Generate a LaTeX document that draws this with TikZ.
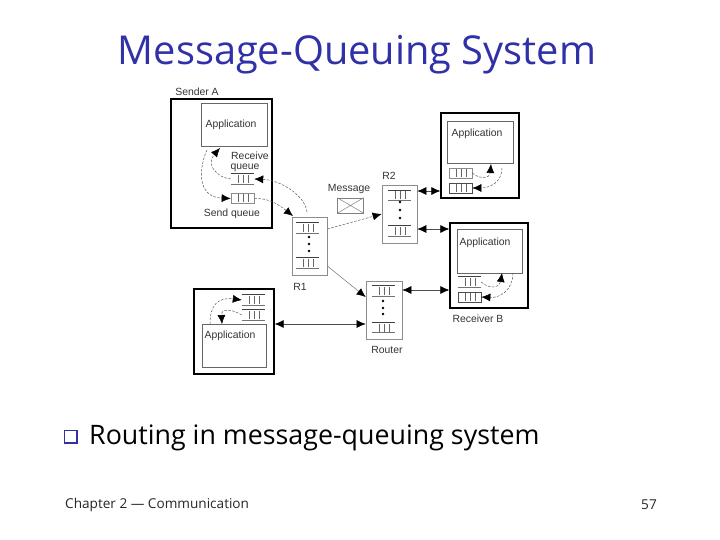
\documentclass[tikz,border=0pt]{standalone}
\usepackage{fontspec}
\setmainfont{Open Sans}
\newfontfamily\diagfont{Liberation Sans}
\usetikzlibrary{arrows.meta,calc}
\definecolor{slideblue}{HTML}{3030A8}
\newcommand{\qticks}{\draw[black!60,line width=.6pt] (path picture bounding box.south west)++(7pt,1pt) -- ++(0,8pt) ++(5pt,-8pt) -- ++(0,8pt) ++(5pt,-8pt) -- ++(0,8pt);}
\tikzset{
  x=1pt,y=-1pt,
  lbl/.style={font=\diagfont\fontsize{10.4}{11}\selectfont,text=black!80,inner sep=0pt,align=center},
  outer/.style={draw=black,line width=1.3pt,inner sep=0pt,fill=white},
  appbox/.style={draw=black!60,line width=.7pt,inner sep=0pt,fill=white},
  router/.style={draw=black!45,line width=.7pt,inner sep=0pt,fill=white},
  qbase/.style={inner sep=0pt,minimum width=23pt,minimum height=10pt,path picture={\qticks}},
  qbox/.style={qbase,draw=black!70,line width=.7pt},
  qlines/.style={qbase,append after command={
     (\tikzlastnode.north west) edge[draw=black!75,line width=.8pt] (\tikzlastnode.north east)
     (\tikzlastnode.south west) edge[draw=black!55,line width=.8pt] (\tikzlastnode.south east)}},
  dotn/.style={circle,fill=black,inner sep=0pt,minimum size=2.6pt},
  dashline/.style={-{Latex[length=9pt,width=8pt,black]},dash pattern=on 2.5pt off 1.5pt,line width=.5pt,draw=black!65},
  thinline/.style={-{Latex[length=9pt,width=8pt,black]},line width=.5pt,draw=black!55},
  dbl/.style={{Latex[length=9pt,width=8pt,black]}-{Latex[length=9pt,width=8pt,black]},line width=.6pt,draw=black!70},
  title/.style={font=\fontsize{39.8}{44}\selectfont,text=slideblue,inner sep=0pt},
  body/.style={font=\fontsize{26.8}{30}\selectfont,text=black,inner sep=0pt,anchor=west},
  foot/.style={font=\fontsize{13.6}{16}\selectfont,text=black!85,inner sep=0pt},
  bullet/.style={draw=slideblue,line width=1.2pt,fill=white,minimum size=12pt,inner sep=0pt}
}
\begin{document}
\begin{tikzpicture}
\useasboundingbox (0,0) rectangle (720,540);
\node[title] (ttl) at (357,55) {Message-Queuing System};
% Sender A
\node[outer,minimum width=101pt,minimum height=129pt] (sender) at (221.5,163.5) {};
\node[appbox,minimum width=66pt,minimum height=43pt] (sapp) at (234,124.5) {};
\node[lbl] (sappl) at (231,125) {Application};
\node[qlines] (srq) at (242.5,179) {};
\node[qbox,draw=black!45] (ssq) at (242.5,198.5) {};
\node[lbl] (sa) at (197,92) {Sender A};
\node[lbl] (rql) at (250,155.5) {Receive};
\node[lbl] (rql2) at (245,167.5) {queue};
\node[lbl] (sql) at (232,214) {Send queue};
% R1
\node[router,minimum width=35pt,minimum height=58pt] (r1) at (309.5,246) {};
\node[qlines] (r1a) at (307.5,228) {};
\node[qlines] (r1b) at (307.5,263) {};
\node[dotn] (r1d1) at (309,237) {};
\node[dotn] (r1d2) at (309,244) {};
\node[dotn] (r1d3) at (309,251) {};
\node[lbl] (r1l) at (300,287) {R1};
% R2
\node[router,minimum width=35pt,minimum height=58pt] (r2) at (399.5,214) {};
\node[qlines] (r2a) at (399.5,195.5) {};
\node[qlines] (r2b) at (399.5,231) {};
\node[dotn] (r2d1) at (400,202) {};
\node[dotn] (r2d2) at (400,210) {};
\node[dotn] (r2d3) at (400,218) {};
\node[lbl] (r2l) at (389,176) {R2};
% Router
\node[router,minimum width=36pt,minimum height=58pt] (rt) at (384,310) {};
\node[qlines] (rta) at (383.5,291) {};
\node[qlines] (rtb) at (383.5,327.5) {};
\node[dotn] (rtd1) at (383,301) {};
\node[dotn] (rtd2) at (383,308) {};
\node[dotn] (rtd3) at (383,314) {};
\node[lbl] (rtl) at (387,349.5) {Router};
% Top right
\node[outer,minimum width=78pt,minimum height=85pt] (tr) at (480,155.5) {};
\node[appbox,minimum width=66pt,minimum height=42pt] (tapp) at (480,142) {};
\node[lbl] (tappl) at (477,134) {Application};
\node[qbox,draw=black!45] (tq1) at (460.5,173) {};
\node[qbox] (tq2) at (460.5,188) {};
% Receiver B
\node[outer,minimum width=78pt,minimum height=85pt] (rb) at (489,265.5) {};
\node[appbox,minimum width=65pt,minimum height=44pt] (bapp) at (489.5,251) {};
\node[lbl] (bappl) at (485,243) {Application};
\node[qlines] (bq1) at (469.5,282) {};
\node[qbox] (bq2) at (469.5,297) {};
\node[lbl] (rbl) at (478,318.5) {Receiver B};
% Bottom left
\node[outer,minimum width=80pt,minimum height=85pt] (bl) at (234,331.5) {};
\node[appbox,minimum width=64pt,minimum height=43pt] (lapp) at (234,345.5) {};
\node[lbl] (lappl) at (230,336) {Application};
\node[qlines] (lq1) at (253.5,300) {};
\node[qlines] (lq2) at (253.5,315) {};
% Message
\node[draw=black!50,line width=.5pt,minimum width=26pt,minimum height=15pt,inner sep=0pt] (msg) at (350.5,205.5) {};
\draw[black!50,line width=.5pt] (msg.north west) -- (msg.south east) (msg.south west) -- (msg.north east);
\node[lbl] (msgl) at (349,189) {Message};
% Coordinates on the free path ends
\coordinate (s1) at (207,150);
\coordinate (s2) at (220,148);
\coordinate (s3) at (307,212);
\coordinate (s4) at (293,216);
\draw[dashline] (s1) .. controls (200,165) and (195,197) .. (ssq.west);
\draw[dashline] (srq.west) .. controls (218,178) and (205,165) .. (s2);
\draw[dashline] (s3) .. controls (305,195) and (280,180) .. (srq.east);
\draw[dashline] (ssq.east) .. controls (268,198) and (278,204) .. (s4);
\draw[dashline] (r1.east |- 0,229) -- (r2.west |- 0,214);
\draw[thinline] (r1.east |- 0,266) -- (rt.west |- 0,297);
% top right loops
\coordinate (t1) at (491,164);
\coordinate (t2) at (502,168);
\draw[dashline] (tq1.east) .. controls (480,180) and (490,178) .. (t1);
\draw[dashline] (t2) .. controls (502,182) and (490,188) .. (tq2.east);
% receiver B loops
\coordinate (b1) at (502,273);
\coordinate (b2) at (513,273);
\draw[dashline] (bq1.east) .. controls (490,290) and (500,287) .. (b1);
\draw[dashline] (b2) .. controls (513,290) and (500,298) .. (bq2.east);
% bottom left loops
\coordinate (l1) at (210,324);
\coordinate (l2) at (222,324);
\draw[dashline] (l1) .. controls (210,305) and (218,297) .. (lq1.west);
\draw[dashline] (lq2.west) .. controls (232,309) and (221,308) .. (l2);
% double arrows
\draw[dbl] (r2.east |- 0,191) -- (tr.west |- 0,191);
\draw[dbl] (r2.east |- 0,229) -- (rb.west |- 0,229);
\draw[dbl] (rt.east |- 0,290) -- (rb.west |- 0,290);
\draw[dbl] (bl.east |- 0,324) -- (rt.west |- 0,324);
% text
\node[bullet] (bul) at (70.5,436.5) {};
\draw[slideblue,line width=1.6pt] (bul.north east) -- (bul.south east) -- (bul.south west);
\node[body] (bt) at (89,438) {Routing in message-queuing system};
\node[foot,anchor=west] (ft) at (65,505) {Chapter 2 — Communication};
\node[foot] (pg) at (649,505) {57};
\end{tikzpicture}
\end{document}
